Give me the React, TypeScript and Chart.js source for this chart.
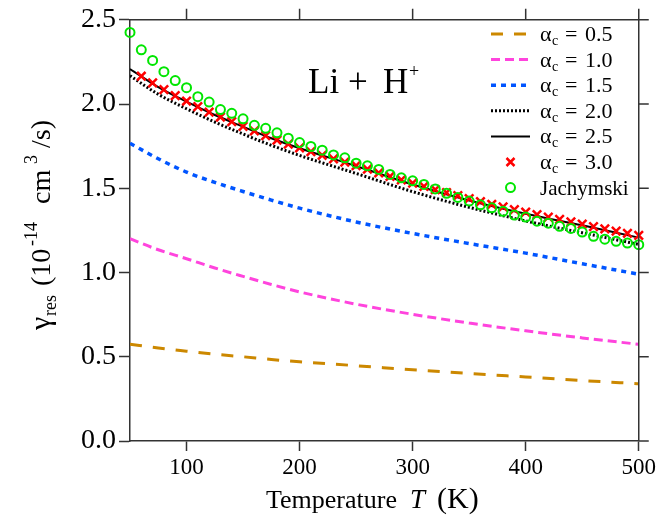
import { useEffect, useRef } from 'react';
import { Chart, registerables } from 'chart.js';

Chart.register(...registerables);

// ---------------- data ----------------
const lineTemps = [50, 75, 100, 125, 150, 175, 200, 250, 300, 350, 400, 450, 500];
const alpha05 = [0.575, 0.552, 0.533, 0.515, 0.500, 0.484, 0.470, 0.447, 0.423, 0.401, 0.380, 0.359, 0.340];
const alpha10 = [1.201, 1.135, 1.082, 1.027, 0.977, 0.929, 0.885, 0.812, 0.752, 0.700, 0.654, 0.612, 0.574];
const alpha15 = [1.767, 1.675, 1.596, 1.535, 1.481, 1.430, 1.382, 1.300, 1.232, 1.172, 1.115, 1.052, 0.990];
const alpha20 = [2.168, 2.058, 1.972, 1.893, 1.822, 1.755, 1.695, 1.588, 1.480, 1.387, 1.306, 1.236, 1.167];
const alpha25 = [2.208, 2.100, 2.014, 1.935, 1.866, 1.797, 1.738, 1.632, 1.522, 1.428, 1.349, 1.280, 1.207];

const crossTemps = [60, 70, 80, 90, 100, 110, 120, 130, 140, 150, 160, 170, 180, 190, 200, 210, 220, 230, 240, 250,
  260, 270, 280, 290, 300, 310, 320, 330, 340, 350, 360, 370, 380, 390, 400, 410, 420, 430, 440, 450, 460, 470, 480, 490, 500];
const alpha30 = [2.165, 2.125, 2.085, 2.05, 2.018, 1.985, 1.952, 1.923, 1.895, 1.868, 1.84, 1.812, 1.786, 1.762, 1.74,
  1.718, 1.696, 1.675, 1.655, 1.635, 1.613, 1.592, 1.571, 1.55, 1.53, 1.511, 1.492, 1.474, 1.456, 1.438, 1.421, 1.405,
  1.389, 1.373, 1.358, 1.343, 1.329, 1.315, 1.301, 1.287, 1.273, 1.259, 1.246, 1.233, 1.22];

const jachTemps = [50, 60, 70, 80, 90, 100, 110, 120, 130, 140, 150, 160, 170, 180, 190, 200, 210, 220, 230, 240, 250,
  260, 270, 280, 290, 300, 310, 320, 330, 340, 350, 360, 370, 380, 390, 400, 410, 420, 430, 440, 450, 460, 470, 480, 490, 500];
const jachymski = [2.425, 2.322, 2.259, 2.192, 2.139, 2.097, 2.044, 2.012, 1.967, 1.945, 1.912, 1.874, 1.856, 1.829,
  1.797, 1.771, 1.748, 1.726, 1.698, 1.681, 1.649, 1.633, 1.612, 1.582, 1.562, 1.544, 1.523, 1.496, 1.470, 1.446, 1.424,
  1.402, 1.384, 1.363, 1.341, 1.329, 1.305, 1.293, 1.274, 1.262, 1.240, 1.215, 1.198, 1.185, 1.175, 1.165];

const xTicks = [100, 200, 300, 400, 500];
const yTicks = [0.0, 0.5, 1.0, 1.5, 2.0, 2.5];
const alphaLabels = ['0.5', '1.0', '1.5', '2.0', '2.5', '3.0'];
const refLabel = 'Jachymski';

// ---------------- style ----------------
const SERIF = '"Liberation Serif", "DejaVu Serif", serif';
const AXIS = '#333333';
const ORANGE = '#CC8800';
const MAGENTA = '#FF44DD';
const BLUE = '#0055FF';
const RED = '#FF0000';
const GREEN = '#00E600';

const pts = (xs: number[], ys: number[]) => xs.map((x, i) => ({ x, y: ys[i] }));

function drawPieces(ctx: CanvasRenderingContext2D, pieces: { t: string; f: string; at: number; dy: number }[]) {
  pieces.forEach((p) => {
    ctx.font = p.f;
    ctx.fillText(p.t, p.at, p.dy);
  });
}

const decorPlugin = {
  id: 'decor',
  afterDraw(chart: any) {
    const { ctx, chartArea: ca, scales } = chart;
    const xs = scales.x;
    const ys = scales.y;
    ctx.save();
    // top and right frame + outward ticks
    ctx.strokeStyle = AXIS;
    ctx.lineWidth = 1.5;
    ctx.setLineDash([]);
    ctx.beginPath();
    ctx.moveTo(ca.left, ca.top);
    ctx.lineTo(ca.right, ca.top);
    ctx.moveTo(ca.right, ca.top);
    ctx.lineTo(ca.right, ca.bottom);
    xTicks.forEach((v) => {
      const px = xs.getPixelForValue(v);
      ctx.moveTo(px, ca.top);
      ctx.lineTo(px, ca.top - 11);
    });
    yTicks.forEach((v) => {
      const py = ys.getPixelForValue(v);
      ctx.moveTo(ca.right, py);
      ctx.lineTo(ca.right + 10, py);
    });
    ctx.stroke();

    ctx.fillStyle = '#000';
    ctx.textBaseline = 'alphabetic';
    ctx.textAlign = 'left';

    // legend
    const ds = chart.data.datasets;
    const rowY0 = 34;
    const rowH = 25.6;
    for (let i = 0; i < ds.length; i++) {
      const d = ds[i];
      const cy = rowY0 + i * rowH;
      ctx.save();
      if (d.showLine === false) {
        const mx = 510.5;
        ctx.strokeStyle = d.borderColor;
        ctx.lineWidth = d.borderWidth;
        ctx.setLineDash([]);
        ctx.beginPath();
        if (d.pointStyle === 'crossRot') {
          const r = 4;
          ctx.moveTo(mx - r, cy - r);
          ctx.lineTo(mx + r, cy + r);
          ctx.moveTo(mx - r, cy + r);
          ctx.lineTo(mx + r, cy - r);
        } else {
          ctx.arc(mx, cy, d.pointRadius, 0, Math.PI * 2);
        }
        ctx.stroke();
      } else {
        ctx.strokeStyle = d.borderColor;
        ctx.lineWidth = d.borderWidth;
        ctx.setLineDash(d.borderDash || []);
        ctx.beginPath();
        ctx.moveTo(491, cy);
        ctx.lineTo(530, cy);
        ctx.stroke();
      }
      ctx.restore();
      const by = cy + 7;
      if (i < alphaLabels.length) {
        ctx.font = `22px ${SERIF}`;
        ctx.fillText('α', 540, by);
        ctx.font = `14px ${SERIF}`;
        ctx.fillText('c', 552, by + 4);
        ctx.font = `22px ${SERIF}`;
        ctx.fillText('=', 565, by);
        ctx.fillText(alphaLabels[i], 585, by);
      } else {
        ctx.font = `21px ${SERIF}`;
        ctx.fillText(refLabel, 540, by);
      }
    }

    // annotation Li + H+
    ctx.font = `35px ${SERIF}`;
    ctx.fillText('Li', 308, 93);
    ctx.fillText('+', 348, 93);
    ctx.fillText('H', 383, 93);
    ctx.font = `18px ${SERIF}`;
    ctx.fillText('+', 409, 77);

    // x title
    ctx.font = `26px ${SERIF}`;
    ctx.fillText('Temperature', 266, 508);
    ctx.font = `italic 27px ${SERIF}`;
    ctx.fillText('T', 410, 508);
    ctx.font = `30px ${SERIF}`;
    ctx.fillText('(K)', 437, 508);

    // y title (rotated)
    ctx.save();
    ctx.translate(50, 330);
    ctx.rotate(-Math.PI / 2);
    drawPieces(ctx, [
      { t: 'γ', f: `30px ${SERIF}`, at: 0, dy: 0 },
      { t: 'res', f: `18px ${SERIF}`, at: 14, dy: 6 },
      { t: '(10', f: `28px ${SERIF}`, at: 44, dy: 0 },
      { t: '-14', f: `18px ${SERIF}`, at: 84, dy: -13 },
      { t: 'cm', f: `28px ${SERIF}`, at: 126, dy: 0 },
      { t: '3', f: `18px ${SERIF}`, at: 166, dy: -13 },
      { t: '/s)', f: `28px ${SERIF}`, at: 182, dy: 0 },
    ]);
    ctx.restore();

    ctx.restore();
  },
};

export default function App() {
  const ref = useRef<HTMLCanvasElement>(null);
  useEffect(() => {
    const prev = document.body.style.margin;
    document.body.style.margin = '0';
    const chart = new Chart(ref.current as HTMLCanvasElement, {
      type: 'line',
      data: {
        datasets: [
          { label: 'αc = 0.5', data: pts(lineTemps, alpha05), borderColor: ORANGE, borderWidth: 3, borderDash: [12, 11], pointRadius: 0, cubicInterpolationMode: 'monotone', fill: false, order: 6 },
          { label: 'αc = 1.0', data: pts(lineTemps, alpha10), borderColor: MAGENTA, borderWidth: 3, borderDash: [9, 5], pointRadius: 0, cubicInterpolationMode: 'monotone', fill: false, order: 5 },
          { label: 'αc = 1.5', data: pts(lineTemps, alpha15), borderColor: BLUE, borderWidth: 3.5, borderDash: [5, 5], pointRadius: 0, cubicInterpolationMode: 'monotone', fill: false, order: 4 },
          { label: 'αc = 2.0', data: pts(lineTemps, alpha20), borderColor: '#000000', borderWidth: 3, borderDash: [2, 2], pointRadius: 0, cubicInterpolationMode: 'monotone', fill: false, order: 3 },
          { label: 'αc = 2.5', data: pts(lineTemps, alpha25), borderColor: '#000000', borderWidth: 2, pointRadius: 0, cubicInterpolationMode: 'monotone', fill: false, order: 2 },
          { label: 'αc = 3.0', data: pts(crossTemps, alpha30), showLine: false, pointStyle: 'crossRot', pointRadius: 6, borderColor: RED, backgroundColor: RED, borderWidth: 2.5, order: 1, clip: false },
          { label: refLabel, data: pts(jachTemps, jachymski), showLine: false, pointStyle: 'circle', pointRadius: 4.5, borderColor: GREEN, backgroundColor: 'rgba(0,0,0,0)', borderWidth: 2, order: 0, clip: false },
        ] as any,
      },
      options: {
        animation: false,
        responsive: false,
        devicePixelRatio: 1,
        events: [],
        layout: { padding: { top: 19, right: 20, bottom: 0, left: 0 } },
        plugins: { legend: { display: false }, tooltip: { enabled: false } },
        scales: {
          x: {
            type: 'linear',
            min: 50,
            max: 500,
            afterBuildTicks: (s: any) => { s.ticks = xTicks.map((v) => ({ value: v })); },
            afterFit: (s: any) => { s.height = 81; },
            grid: { drawOnChartArea: false, drawTicks: true, tickLength: 10, tickColor: AXIS, tickWidth: 1.5 },
            border: { display: true, color: AXIS, width: 1.5 },
            ticks: { color: '#000', font: { family: SERIF, size: 23 }, padding: 3, maxRotation: 0, autoSkip: false },
          },
          y: {
            type: 'linear',
            min: 0,
            max: 2.5,
            afterBuildTicks: (s: any) => { s.ticks = yTicks.map((v) => ({ value: v })); },
            afterFit: (s: any) => { s.width = 130; },
            grid: { drawOnChartArea: false, drawTicks: true, tickLength: 11, tickColor: AXIS, tickWidth: 1.5 },
            border: { display: true, color: AXIS, width: 1.5 },
            ticks: { color: '#000', font: { family: SERIF, size: 28 }, padding: 3, callback: (v: any) => Number(v).toFixed(1) },
          },
        },
      },
      plugins: [decorPlugin],
    } as any);
    return () => {
      chart.destroy();
      document.body.style.margin = prev;
    };
  }, []);
  return (
    <div style={{ position: 'relative', width: 659, height: 522 }}>
      <canvas ref={ref} width={659} height={522} style={{ display: 'block', width: 659, height: 522 }} />
    </div>
  );
}
